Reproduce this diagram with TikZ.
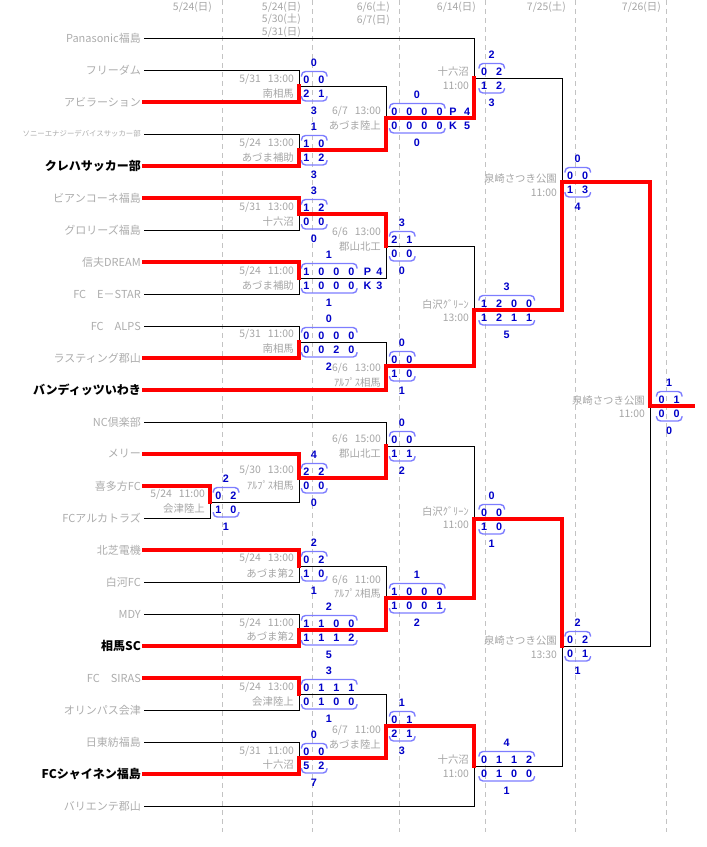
\documentclass[tikz,border=0pt]{standalone}
\usepackage{fontspec}
\setmainfont{Liberation Sans}
\newfontfamily\jp{Noto Sans CJK JP}
\definecolor{namegray}{RGB}{172,172,172}
\definecolor{lblgray}{RGB}{165,165,165}
\definecolor{scoreblue}{RGB}{0,0,200}
\definecolor{arcblue}{RGB}{125,125,255}
\definecolor{dashgray}{RGB}{195,195,195}
\definecolor{bred}{RGB}{255,0,0}
\tikzset{
 team/.style={anchor=east,inner sep=0pt,text=namegray,font=\jp\fontsize{11}{13}\selectfont},
 champ/.style={anchor=east,inner sep=0pt,text=black,font=\jp\bfseries\fontsize{12}{14}\selectfont},
 lbl/.style={anchor=east,inner sep=0pt,text=lblgray,font=\jp\fontsize{10.4}{12}\selectfont},
 hdr/.style={anchor=east,inner sep=0pt,text=lblgray,font=\jp\fontsize{10.4}{12}\selectfont},
 dig/.style={inner sep=0pt,text=scoreblue,font=\bfseries\fontsize{10.8}{12}\selectfont},
 lose/.style={draw=black,line width=1pt},
 wins/.style={draw=bred,line width=3.2pt,line cap=rect},
 sbrace/.style={draw=arcblue,line width=1.4pt,rounded corners=4pt},
 gridl/.style={draw=dashgray,line width=0.8pt,dash pattern=on 5pt off 4pt},
}
\newcommand\mscore[8]{%
  \pgfmathsetmacro\msxl{#1-5}%
  \pgfmathsetmacro\msxr{#1+15*(#3-1)+5.5}%
  \pgfmathsetmacro\msxc{#1+7.5*(#3-1)}%
  \draw[sbrace] (\msxl,#2-9.5) -- (\msxl,#2-14.5) -- (\msxr,#2-14.5) -- (\msxr,#2-9.5);
  \draw[sbrace] (\msxl,#2+10) -- (\msxl,#2+15) -- (\msxr,#2+15) -- (\msxr,#2+10);
  \node[dig] (#8t) at (\msxc,#2-23.5) {#4};
  \node[dig] (#8b) at (\msxc,#2+24.5) {#7};
  \foreach \d [count=\i] in {#5} \node[dig] (#8ra\i) at ({#1+15*(\i-1)},#2-6.5) {\d};
  \foreach \d [count=\i] in {#6} \node[dig] (#8rb\i) at ({#1+15*(\i-1)},#2+7.5) {\d};
}
\newcommand\tm{\hspace{7pt}}
\begin{document}
\begin{tikzpicture}[x=1pt,y=-1pt]
\useasboundingbox (0,0) rectangle (707,847);
% grid
\foreach \gx in {222,312,399,485,575,666} \draw[gridl] (\gx,0) -- (\gx,832);
% header
\node[hdr] (h1) at (212,7) {5/24(日)};
\node[hdr] (h2a) at (301,7) {5/24(日)};
\node[hdr] (h2b) at (301,19.5) {5/30(土)};
\node[hdr] (h2c) at (301,32) {5/31(日)};
\node[hdr] (h3a) at (390,7) {6/6(土)};
\node[hdr] (h3b) at (390,20) {6/7(日)};
\node[hdr] (h4) at (476,7) {6/14(日)};
\node[hdr] (h5) at (566,7) {7/25(土)};
\node[hdr] (h6) at (661,7) {7/26(日)};
% teams
\node[team] (t0) at (141,38) {Panasonic福島};
\node[team] (t1) at (141,70) {フリーダム};
\node[team] (t2) at (141,102) {アビラーション};
\node[team,font=\jp\fontsize{7.4}{9}\selectfont] (t3) at (141,134) {ソニーエナジーデバイスサッカー部};
\node[champ] (t4) at (141,166) {クレハサッカー部};
\node[team] (t5) at (141,198) {ビアンコーネ福島};
\node[team] (t6) at (141,230) {グロリーズ福島};
\node[team] (t7) at (141,262) {信夫DREAM};
\node[team] (t8) at (141,294) {FC　E－STAR};
\node[team] (t9) at (141,326) {FC　ALPS};
\node[team] (t10) at (141,358) {ラスティング郡山};
\node[champ] (t11) at (141,390) {バンディッツいわき};
\node[team] (t12) at (141,422) {NC倶楽部};
\node[team] (t13) at (141,454) {メリー};
\node[team] (t14) at (141,486) {喜多方FC};
\node[team] (t15) at (141,518) {FCアルカトラズ};
\node[team] (t16) at (141,550) {北芝電機};
\node[team] (t17) at (141,582) {白河FC};
\node[team] (t18) at (141,614) {MDY};
\node[champ] (t19) at (141,646) {相馬SC};
\node[team] (t20) at (141,678) {FC　SIRAS};
\node[team] (t21) at (141,710) {オリンパス会津};
\node[team] (t22) at (141,742) {日東紡福島};
\node[champ] (t23) at (141,774) {FCシャイネン福島};
\node[team] (t24) at (141,806) {バリエンテ郡山};
\foreach \k in {0,...,24} \coordinate (s\k) at ([xshift=3pt]t\k.east);
% match points
\coordinate (mA1) at (299,86);
\coordinate (mA2) at (299,150);
\coordinate (mB1) at (386,118);
\coordinate (mC1) at (474,78);
\coordinate (mA3) at (299,214);
\coordinate (mA4) at (299,278);
\coordinate (mB2) at (386,246);
\coordinate (mA5) at (299,342);
\coordinate (mB3) at (386,366);
\coordinate (mC2) at (474,310);
\coordinate (mD1) at (562,182);
\coordinate (mF) at (650,406);
\coordinate (champend) at (693,406);
\coordinate (mA0) at (210,502);
\coordinate (mA6) at (299,478);
\coordinate (mB4) at (386,446);
\coordinate (mA7) at (299,566);
\coordinate (mA8) at (299,630);
\coordinate (mB5) at (386,598);
\coordinate (mC3) at (474,519);
\coordinate (mA9) at (299,694);
\coordinate (mA10) at (299,758);
\coordinate (mB6) at (386,726);
\coordinate (mC4) at (474,766);
\coordinate (mD2) at (562,646);
% losing paths
\foreach \a/\b in {s0/mC1,s1/mA1,s3/mA2,mA1/mB1,mC1/mD1,s6/mA3,s8/mA4,mA4/mB2,mB2/mC2,s9/mA5,mA5/mB3,
  s12/mB4,s15/mA0,mA0/mA6,mB4/mC3,s17/mA7,s18/mA8,mA7/mB5,s21/mA9,s22/mA10,mA9/mB6,s24/mC4,mC4/mD2,mD2/mF}
  \draw[lose] (\a) -| (\b);
% winning paths
\foreach \a/\b in {s2/mA1,s4/mA2,mA2/mB1,mB1/mC1,s5/mA3,s7/mA4,mA3/mB2,s10/mA5,s11/mB3,mB3/mC2,mC2/mD1,mD1/mF,
  s13/mA6,s14/mA0,mA6/mB4,s16/mA7,s19/mA8,mA8/mB5,mB5/mC3,mC3/mD2,s20/mA9,s23/mA10,mA10/mB6,mB6/mC4}
  \draw[wins] (\a) -| (\b);
\draw[wins] (mF) -- (champend);
% scores
\mscore{306.5}{86}{2}{0}{0,0}{2,1}{3}{sA1}
\mscore{306.5}{150}{2}{1}{1,0}{1,2}{3}{sA2}
\mscore{394.5}{118}{4}{0}{0,0,0,0}{0,0,0,0}{0}{sB1}
\mscore{484}{78}{2}{2}{0,2}{1,2}{3}{sC1}
\mscore{306.5}{214}{2}{3}{1,2}{0,0}{0}{sA3}
\mscore{306.5}{278}{4}{1}{1,0,0,0}{1,0,0,0}{1}{sA4}
\mscore{394.5}{246}{2}{3}{2,1}{0,0}{0}{sB2}
\mscore{306.5}{342}{4}{0}{0,0,0,0}{0,0,2,0}{2}{sA5}
\mscore{394.5}{366}{2}{0}{0,0}{1,0}{1}{sB3}
\mscore{484}{310}{4}{3}{1,2,0,0}{1,2,1,1}{5}{sC2}
\mscore{570}{182}{2}{0}{0,0}{1,3}{4}{sD1}
\mscore{661.5}{406}{2}{1}{0,1}{0,0}{0}{sF}
\mscore{218.3}{502}{2}{2}{0,2}{1,0}{1}{sA0}
\mscore{306.5}{478}{2}{4}{2,2}{0,0}{0}{sA6}
\mscore{394.5}{446}{2}{0}{0,0}{1,1}{2}{sB4}
\mscore{306.5}{566}{2}{2}{0,2}{1,0}{1}{sA7}
\mscore{306.5}{630}{4}{2}{1,1,0,0}{1,1,1,2}{5}{sA8}
\mscore{394.5}{598}{4}{1}{1,0,0,0}{1,0,0,1}{2}{sB5}
\mscore{484}{519}{2}{0}{0,0}{1,0}{1}{sC3}
\mscore{306.5}{694}{4}{3}{0,1,1,1}{0,1,0,0}{1}{sA9}
\mscore{306.5}{758}{2}{0}{0,0}{5,2}{7}{sA10}
\mscore{394.5}{726}{2}{1}{0,1}{2,1}{3}{sB6}
\mscore{484}{766}{4}{4}{0,1,1,2}{0,1,0,0}{1}{sC4}
\mscore{570}{646}{2}{2}{0,2}{0,1}{1}{sD2}
% PK marks
\node[dig] (pkB1a) at (453,111.5) {P};
\node[dig] (pkB1b) at (467,111.5) {4};
\node[dig] (pkB1c) at (453,125.5) {K};
\node[dig] (pkB1d) at (467,125.5) {5};
\node[dig] (pkA4a) at (367.5,271.5) {P};
\node[dig] (pkA4b) at (379.5,271.5) {4};
\node[dig] (pkA4c) at (367.5,285.5) {K};
\node[dig] (pkA4d) at (379.5,285.5) {3};
% venue labels
\node[lbl] (lA1a) at (294,79) {5/31\tm13:00};
\node[lbl] (lA1b) at (294,93.5) {南相馬};
\node[lbl] (lA2a) at (294,143.5) {5/24\tm13:00};
\node[lbl] (lA2b) at (294,158) {あづま補助};
\node[lbl] (lB1a) at (381,111.5) {6/7\tm13:00};
\node[lbl] (lB1b) at (381,125.5) {あづま陸上};
\node[lbl] (lC1a) at (469,71.5) {十六沼};
\node[lbl] (lC1b) at (469,85.5) {11:00};
\node[lbl] (lA3a) at (294,207) {5/31\tm13:00};
\node[lbl] (lA3b) at (294,221.5) {十六沼};
\node[lbl] (lA4a) at (294,271) {5/24\tm11:00};
\node[lbl] (lA4b) at (294,286) {あづま補助};
\node[lbl] (lB2a) at (381,232.5) {6/6\tm13:00};
\node[lbl] (lB2b) at (381,246.5) {郡山北工};
\node[lbl] (lA5a) at (294,334.5) {5/31\tm11:00};
\node[lbl] (lA5b) at (294,349) {南相馬};
\node[lbl] (lB3a) at (381,368.5) {6/6\tm13:00};
\node[lbl] (lB3b) at (381,382.5) {ｱﾙﾌﾟｽ相馬};
\node[lbl] (lC2a) at (469,304) {白沢ｸﾞﾘｰﾝ};
\node[lbl] (lC2b) at (469,318) {13:00};
\node[lbl] (lD1a) at (557,179) {泉崎さつき公園};
\node[lbl] (lD1b) at (557,192.5) {11:00};
\node[lbl] (lFa) at (645,401) {泉崎さつき公園};
\node[lbl] (lFb) at (645,414) {11:00};
\node[lbl] (lA0a) at (205,494.5) {5/24\tm11:00};
\node[lbl] (lA0b) at (205,509) {会津陸上};
\node[lbl] (lA6a) at (294,470.5) {5/30\tm13:00};
\node[lbl] (lA6b) at (294,485) {ｱﾙﾌﾟｽ相馬};
\node[lbl] (lB4a) at (381,439.5) {6/6\tm15:00};
\node[lbl] (lB4b) at (381,454) {郡山北工};
\node[lbl] (lA7a) at (294,558.5) {5/24\tm13:00};
\node[lbl] (lA7b) at (294,573.5) {あづま第2};
\node[lbl] (lB5a) at (381,580) {6/6\tm11:00};
\node[lbl] (lB5b) at (381,593.5) {ｱﾙﾌﾟｽ相馬};
\node[lbl] (lA8a) at (294,623) {5/24\tm11:00};
\node[lbl] (lA8b) at (294,637) {あづま第2};
\node[lbl] (lC3a) at (469,511) {白沢ｸﾞﾘｰﾝ};
\node[lbl] (lC3b) at (469,525) {11:00};
\node[lbl] (lA9a) at (294,687.5) {5/24\tm13:00};
\node[lbl] (lA9b) at (294,702) {会津陸上};
\node[lbl] (lA10a) at (294,751) {5/31\tm11:00};
\node[lbl] (lA10b) at (294,765) {十六沼};
\node[lbl] (lB6a) at (381,730) {6/7\tm11:00};
\node[lbl] (lB6b) at (381,744.5) {あづま陸上};
\node[lbl] (lC4a) at (469,760) {十六沼};
\node[lbl] (lC4b) at (469,773.5) {11:00};
\node[lbl] (lD2a) at (557,641) {泉崎さつき公園};
\node[lbl] (lD2b) at (557,654.5) {13:30};
\end{tikzpicture}
\end{document}
